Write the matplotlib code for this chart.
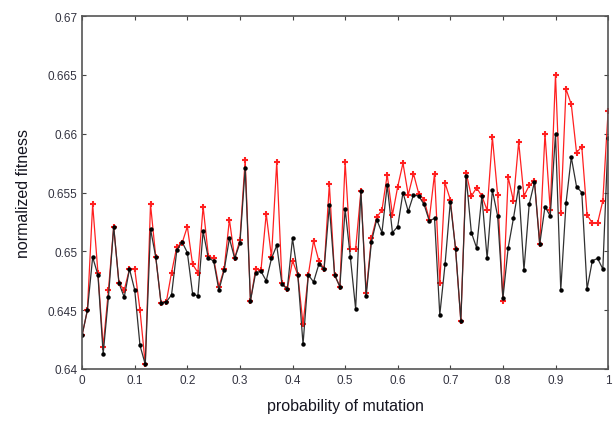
import numpy as np
import matplotlib
matplotlib.use("Agg")
import matplotlib.pyplot as plt

# probability of mutation, 0 .. 1 in steps of 0.01
prob = np.round(np.arange(0, 101) * 0.01, 2)

best_fitness = [
    0.6429, 0.6450, 0.6540, 0.6482, 0.6419, 0.6467, 0.6521, 0.6473, 0.6467, 0.6485,
    0.6485, 0.6450, 0.6404, 0.6540, 0.6495, 0.6456, 0.6457, 0.6482, 0.6504, 0.6507,
    0.6521, 0.6489, 0.6482, 0.6538, 0.6496, 0.6494, 0.6470, 0.6485, 0.6527, 0.6494,
    0.6510, 0.6578, 0.6458, 0.6485, 0.6484, 0.6532, 0.6495, 0.6576, 0.6473, 0.6468,
    0.6492, 0.6480, 0.6438, 0.6480, 0.6509, 0.6492, 0.6485, 0.6557, 0.6480, 0.6470,
    0.6576, 0.6502, 0.6502, 0.6551, 0.6465, 0.6511, 0.6529, 0.6535, 0.6565, 0.6531,
    0.6555, 0.6575, 0.6548, 0.6566, 0.6549, 0.6544, 0.6527, 0.6566, 0.6473, 0.6558,
    0.6544, 0.6502, 0.6441, 0.6567, 0.6547, 0.6554, 0.6547, 0.6535, 0.6597, 0.6548,
    0.6458, 0.6563, 0.6543, 0.6593, 0.6547, 0.6556, 0.6560, 0.6506, 0.6600, 0.6535,
    0.6650, 0.6533, 0.6638, 0.6625, 0.6584, 0.6589, 0.6531, 0.6524, 0.6524, 0.6543,
    0.6619,
]

mean_fitness = [
    0.6429, 0.6450, 0.6495, 0.6480, 0.6413, 0.6461, 0.6521, 0.6473, 0.6461, 0.6485,
    0.6467, 0.6420, 0.6404, 0.6519, 0.6495, 0.6456, 0.6457, 0.6463, 0.6501, 0.6508,
    0.6499, 0.6464, 0.6462, 0.6517, 0.6494, 0.6492, 0.6467, 0.6484, 0.6511, 0.6494,
    0.6507, 0.6571, 0.6458, 0.6482, 0.6483, 0.6475, 0.6494, 0.6505, 0.6472, 0.6468,
    0.6511, 0.6480, 0.6421, 0.6480, 0.6474, 0.6489, 0.6485, 0.6539, 0.6480, 0.6470,
    0.6536, 0.6495, 0.6451, 0.6551, 0.6462, 0.6508, 0.6527, 0.6516, 0.6556, 0.6516,
    0.6521, 0.6550, 0.6534, 0.6548, 0.6547, 0.6540, 0.6526, 0.6528, 0.6446, 0.6489,
    0.6542, 0.6502, 0.6441, 0.6564, 0.6516, 0.6503, 0.6547, 0.6494, 0.6552, 0.6530,
    0.6460, 0.6503, 0.6528, 0.6555, 0.6484, 0.6540, 0.6559, 0.6506, 0.6538, 0.6530,
    0.6600, 0.6467, 0.6541, 0.6580, 0.6555, 0.6550, 0.6468, 0.6492, 0.6494, 0.6485,
    0.6596,
]

xticks = [0, 0.1, 0.2, 0.3, 0.4, 0.5, 0.6, 0.7, 0.8, 0.9, 1]
xtick_labels = ["0", "0.1", "0.2", "0.3", "0.4", "0.5", "0.6", "0.7", "0.8", "0.9", "1"]
yticks = [0.64, 0.645, 0.65, 0.655, 0.66, 0.665, 0.67]
ytick_labels = ["0.64", "0.645", "0.65", "0.655", "0.66", "0.665", "0.67"]

plt.rcParams["font.family"] = ["Liberation Sans", "DejaVu Sans"]

fig = plt.figure(figsize=(6.13, 4.27), dpi=100)
ax = fig.add_axes([0.134, 0.1335, 0.858, 0.8265])

ax.plot(prob, best_fitness, color="#ff2020", linewidth=0.9, marker="+",
        markersize=5, markeredgewidth=1.5)
ax.plot(prob, mean_fitness, color="#303030", linewidth=0.9, marker="o",
        markersize=2.2, markerfacecolor="black", markeredgecolor="black")

ax.set_xlim(0, 1)
ax.set_ylim(0.64, 0.67)
ax.set_xticks(xticks)
ax.set_xticklabels(xtick_labels)
ax.set_yticks(yticks)
ax.set_yticklabels(ytick_labels)
ax.tick_params(direction="in", top=True, right=True, length=3,
               labelsize=8.5, labelcolor="#333340", color="#444444")
for sp in ax.spines.values():
    sp.set_color("#555555")
    sp.set_linewidth(1.2)

ax.set_xlabel("probability of mutation", fontsize=11.5, color="#151520", labelpad=9)
ax.set_ylabel("normalized fitness", fontsize=11.5, color="#151520", labelpad=12)

fig.savefig("out.png", dpi=100)
